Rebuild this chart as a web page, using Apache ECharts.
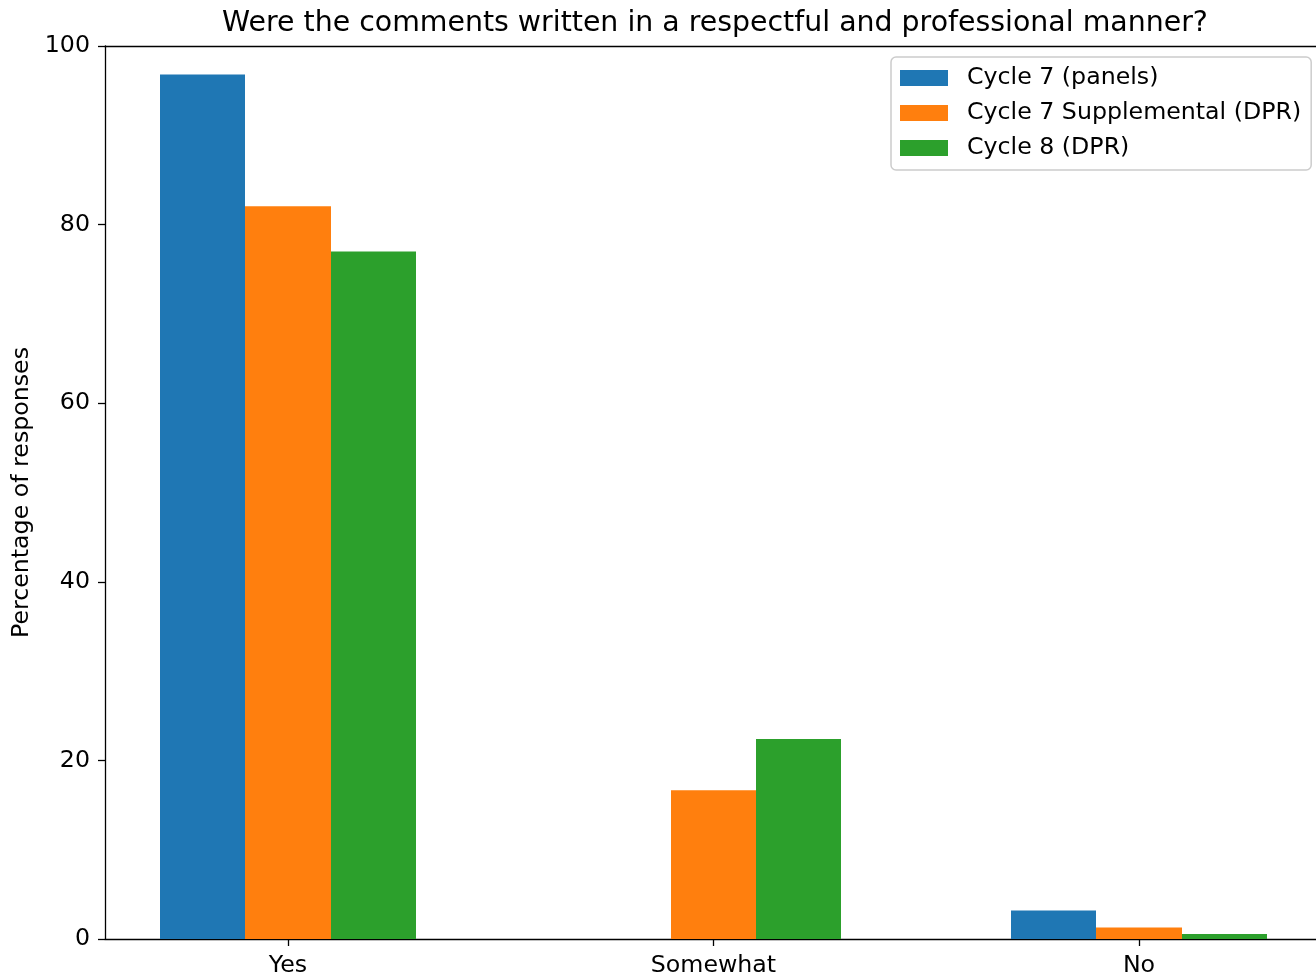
<!DOCTYPE html>
<html>
<head>
<meta charset="utf-8">
<script src="https://cdn.jsdelivr.net/npm/echarts@6/dist/echarts.min.js"></script>
<style>
html,body{margin:0;padding:0;background:#fff;}
#chart{width:1316px;height:978px;}
</style>
</head>
<body>
<div id="chart"></div>
<script>
const categories = ['Yes', 'Somewhat', 'No'];
const seriesNames = ['Cycle 7 (panels)', 'Cycle 7 Supplemental (DPR)', 'Cycle 8 (DPR)'];
const cycle7Panels = [96.8, 0, 3.2];
const cycle7Supplemental = [82.05, 16.67, 1.28];
const cycle8DPR = [77.0, 22.4, 0.56];
const yTicks = [0, 20, 40, 60, 80, 100];
const colors = ['#1f77b4', '#ff7f0e', '#2ca02c'];

const allValues = [cycle7Panels, cycle7Supplemental, cycle8DPR];
const barW = 0.2;
const offsets = [-0.2, 0, 0.2];
const FONT = 'DejaVu Sans';
const FS = 23.7;

function makeSeries(k) {
  return {
    type: 'custom',
    name: seriesNames[k],
    color: colors[k],
    itemStyle: { color: colors[k] },
    data: allValues[k].map((v, i) => [i, v]),
    encode: { x: 0, y: 1 },
    renderItem: function (params, api) {
      const i = api.value(0);
      const v = api.value(1);
      const cx = i + offsets[k];
      const p0 = api.coord([cx - barW / 2, v]);
      const p1 = api.coord([cx + barW / 2, 0]);
      const x0 = Math.round(p0[0]);
      const x1 = Math.round(p1[0]);
      return {
        type: 'rect',
        shape: { x: x0, y: p0[1], width: x1 - x0, height: p1[1] - p0[1] },
        style: { fill: colors[k] }
      };
    },
    z: 2
  };
}

const chart = echarts.init(document.getElementById('chart'), null, { renderer: 'canvas' });
chart.setOption({
  animation: false,
  backgroundColor: '#ffffff',
  textStyle: { fontFamily: FONT },
  title: {
    text: 'Were the comments written in a respectful and professional manner?',
    left: 715, textAlign: 'center', top: 10, padding: 0,
    textStyle: { fontFamily: FONT, fontSize: 28.4, fontWeight: 'normal', color: '#000' }
  },
  legend: {
    orient: 'vertical',
    left: 891, top: 57,
    padding: [9, 10, 10, 9],
    itemWidth: 48, itemHeight: 16, itemGap: 11,
    icon: 'rect',
    borderColor: '#cccccc', borderWidth: 1.5, borderRadius: 5,
    backgroundColor: 'rgba(255,255,255,0.8)',
    textStyle: { fontFamily: FONT, fontSize: FS, color: '#000', lineHeight: 22, padding: [0, 0, 0, 14] },
    data: seriesNames
  },
  grid: {
    left: 105, right: 0, top: 46, bottom: 38, show: false
  },
  xAxis: [{
    type: 'value', min: -0.43, max: 2.416,
    splitLine: { show: false },
    axisLine: { show: true, onZero: false, lineStyle: { color: '#000', width: 1.3 } },
    axisTick: { show: true, customValues: [0, 1, 2], length: 7, lineStyle: { color: '#000', width: 1.3 } },
    axisLabel: {
      customValues: [0, 1, 2], margin: 15,
      formatter: function (v) { return categories[Math.round(v)]; },
      fontFamily: FONT, fontSize: FS, color: '#000'
    }
  }, {
    type: 'value', min: -0.43, max: 2.416, position: 'top',
    splitLine: { show: false },
    axisLine: { show: true, onZero: false, lineStyle: { color: '#000', width: 1.3 } },
    axisTick: { show: false },
    axisLabel: { show: false }
  }],
  yAxis: {
    type: 'value', min: 0, max: 100, interval: 20,
    name: 'Percentage of responses', nameLocation: 'middle', nameGap: 71, nameRotate: 90,
    nameTextStyle: { fontFamily: FONT, fontSize: FS, color: '#000' },
    splitLine: { show: false },
    axisLine: { show: true, onZero: false, lineStyle: { color: '#000', width: 1.3 } },
    axisTick: { show: true, length: 7, lineStyle: { color: '#000', width: 1.3 } },
    axisLabel: {
      margin: 15,
      formatter: function (v) { return yTicks.indexOf(v) >= 0 ? String(v) : ''; },
      fontFamily: FONT, fontSize: FS, color: '#000'
    }
  },
  series: [makeSeries(0), makeSeries(1), makeSeries(2)]
});
</script>
</body>
</html>
